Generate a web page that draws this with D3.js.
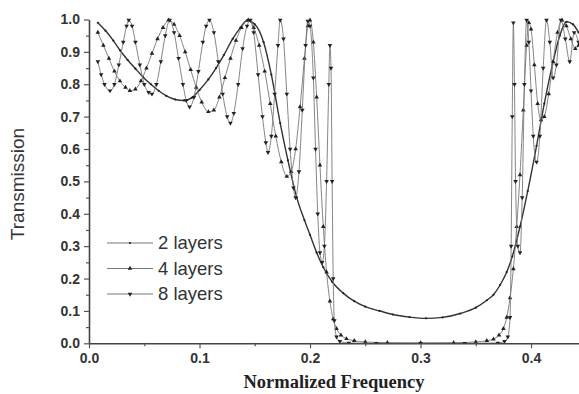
<!DOCTYPE html>
<html>
<head>
<meta charset="utf-8">
<script src="https://cdn.jsdelivr.net/npm/d3@7"></script>
<style>
  body { margin: 0; background: #fff; }
</style>
</head>
<body>
<svg id="chart" width="579" height="394"></svg>
<script>
// [normalized frequency, transmission]
const layers2 = [
  [0.008, 0.99], [0.015, 0.965], [0.022, 0.935], [0.028, 0.905], [0.035, 0.875],
  [0.042, 0.848], [0.049, 0.822], [0.056, 0.8], [0.063, 0.78], [0.07, 0.764],
  [0.078, 0.753], [0.086, 0.75], [0.093, 0.758], [0.1, 0.782], [0.108, 0.815],
  [0.115, 0.85], [0.122, 0.89], [0.13, 0.94], [0.137, 0.975], [0.143, 0.997],
  [0.15, 0.985], [0.158, 0.93], [0.165, 0.83], [0.173, 0.68], [0.18, 0.565],
  [0.188, 0.45], [0.195, 0.38], [0.2, 0.335], [0.206, 0.28], [0.212, 0.235],
  [0.22, 0.19], [0.23, 0.155], [0.24, 0.13], [0.25, 0.113], [0.263, 0.1],
  [0.275, 0.089], [0.29, 0.081], [0.305, 0.077], [0.32, 0.08], [0.336, 0.092],
  [0.35, 0.11], [0.36, 0.133], [0.366, 0.15], [0.372, 0.18], [0.378, 0.22],
  [0.383, 0.268], [0.39, 0.36], [0.397, 0.47], [0.405, 0.61], [0.412, 0.74],
  [0.42, 0.87], [0.426, 0.95], [0.432, 0.993], [0.438, 0.985], [0.443, 0.96]
];

const layers4 = [
  [0.008, 0.96], [0.013, 0.92], [0.018, 0.88], [0.023, 0.84], [0.028, 0.81],
  [0.033, 0.79], [0.037, 0.78], [0.042, 0.785], [0.047, 0.81], [0.052, 0.85],
  [0.057, 0.895], [0.062, 0.94], [0.067, 0.975], [0.072, 0.998], [0.077, 0.985],
  [0.082, 0.95], [0.087, 0.9], [0.092, 0.845], [0.097, 0.79], [0.102, 0.745],
  [0.108, 0.715], [0.113, 0.72], [0.118, 0.76], [0.123, 0.82], [0.128, 0.88],
  [0.133, 0.935], [0.138, 0.975], [0.144, 0.998], [0.149, 0.975], [0.154, 0.92],
  [0.159, 0.84], [0.164, 0.74], [0.169, 0.64], [0.174, 0.56], [0.179, 0.515],
  [0.183, 0.53], [0.187, 0.6], [0.191, 0.73], [0.195, 0.88], [0.198, 0.98],
  [0.2, 0.998], [0.203, 0.93], [0.206, 0.76], [0.209, 0.55], [0.212, 0.36],
  [0.215, 0.22], [0.218, 0.13], [0.221, 0.075], [0.224, 0.045], [0.228, 0.025],
  [0.233, 0.014], [0.24, 0.008], [0.25, 0.004], [0.27, 0.002], [0.3, 0.0015],
  [0.33, 0.002], [0.35, 0.004], [0.36, 0.008], [0.366, 0.013], [0.371, 0.025],
  [0.375, 0.045], [0.378, 0.08], [0.381, 0.14], [0.384, 0.23], [0.387, 0.36],
  [0.39, 0.52], [0.393, 0.72], [0.396, 0.92], [0.398, 0.99], [0.4, 0.97],
  [0.403, 0.86], [0.406, 0.74], [0.409, 0.69], [0.412, 0.7], [0.416, 0.77],
  [0.42, 0.87], [0.424, 0.96], [0.428, 0.998], [0.432, 0.98], [0.436, 0.94],
  [0.44, 0.91], [0.443, 0.92]
];

const layers8 = [
  [0.008, 0.87], [0.011, 0.83], [0.014, 0.8], [0.019, 0.78], [0.023, 0.8],
  [0.027, 0.86], [0.031, 0.93], [0.034, 0.98], [0.036, 0.998], [0.039, 0.98],
  [0.042, 0.93], [0.046, 0.86], [0.05, 0.8], [0.054, 0.775], [0.057, 0.77],
  [0.061, 0.8], [0.065, 0.87], [0.069, 0.95], [0.073, 0.998], [0.077, 0.96],
  [0.081, 0.88], [0.085, 0.8], [0.088, 0.75], [0.091, 0.73], [0.095, 0.76],
  [0.099, 0.84], [0.103, 0.93], [0.106, 0.98], [0.109, 0.998], [0.113, 0.96],
  [0.117, 0.87], [0.121, 0.77], [0.125, 0.7], [0.128, 0.68], [0.131, 0.71],
  [0.135, 0.8], [0.139, 0.91], [0.143, 0.98], [0.146, 0.998], [0.149, 0.96],
  [0.153, 0.83], [0.157, 0.7], [0.16, 0.62], [0.162, 0.59], [0.165, 0.64],
  [0.168, 0.77], [0.171, 0.92], [0.173, 0.998], [0.176, 0.94], [0.179, 0.77],
  [0.182, 0.6], [0.185, 0.48], [0.187, 0.45], [0.19, 0.53], [0.193, 0.72],
  [0.196, 0.92], [0.198, 0.995], [0.2, 0.98], [0.203, 0.82], [0.205, 0.6],
  [0.207, 0.4], [0.209, 0.28], [0.211, 0.25], [0.213, 0.3], [0.215, 0.5],
  [0.217, 0.8], [0.218, 0.92], [0.219, 0.85], [0.22, 0.5], [0.221, 0.2],
  [0.222, 0.07], [0.224, 0.02], [0.227, 0.006], [0.235, 0.001], [0.26, 0],
  [0.3, 0], [0.34, 0], [0.37, 0.001], [0.376, 0.006], [0.379, 0.02],
  [0.381, 0.08], [0.382, 0.3], [0.383, 0.7], [0.384, 0.99], [0.385, 0.8],
  [0.386, 0.5], [0.388, 0.3], [0.39, 0.28], [0.392, 0.45], [0.394, 0.8],
  [0.396, 0.998], [0.398, 0.93], [0.4, 0.78], [0.402, 0.64], [0.405, 0.56],
  [0.408, 0.64], [0.411, 0.85], [0.414, 0.998], [0.417, 0.93], [0.42, 0.82],
  [0.423, 0.86], [0.427, 0.998], [0.431, 0.94], [0.435, 0.87], [0.439, 0.96],
  [0.443, 0.93]
];

const seriesNames = ['2 layers', '4 layers', '8 layers'];
const xTicks = [0.0, 0.1, 0.2, 0.3, 0.4];
const xMinorTicks = [0.05, 0.15, 0.25, 0.35];
const yTicks = [0.0, 0.1, 0.2, 0.3, 0.4, 0.5, 0.6, 0.7, 0.8, 0.9, 1.0];
const yMinorTicks = [0.05, 0.15, 0.25, 0.35, 0.45, 0.55, 0.65, 0.75, 0.85, 0.95];

const svg = d3.select('#chart');
const plotLeft = 89, plotRight = 579, plotTop = 19.5, plotBottom = 343.3;

const x = d3.scaleLinear().domain([0, 0.4434]).range([plotLeft, plotRight]);
const y = d3.scaleLinear().domain([0, 1]).range([plotBottom, plotTop]);

// clip the curves to the plot area
svg.append('clipPath').attr('id', 'plot')
  .append('rect')
  .attr('x', plotLeft).attr('y', plotTop - 4)
  .attr('width', plotRight - plotLeft).attr('height', plotBottom - plotTop + 4);

// axes
const yAxis = svg.append('g')
  .attr('transform', 'translate(' + plotLeft + ',0)')
  .call(d3.axisLeft(y).tickValues(yTicks).tickFormat(d3.format('.1f')).tickSize(5).tickSizeOuter(0));
svg.append('g')
  .attr('transform', 'translate(' + plotLeft + ',0)')
  .call(d3.axisLeft(y).tickValues(yMinorTicks).tickFormat('').tickSize(3).tickSizeOuter(0))
  .select('.domain').remove();

const xAxis = svg.append('g')
  .attr('transform', 'translate(0,' + plotBottom + ')')
  .call(d3.axisBottom(x).tickValues(xTicks).tickFormat(d3.format('.1f')).tickSize(5).tickSizeOuter(0));
svg.append('g')
  .attr('transform', 'translate(0,' + plotBottom + ')')
  .call(d3.axisBottom(x).tickValues(xMinorTicks).tickFormat('').tickSize(3).tickSizeOuter(0))
  .select('.domain').remove();

svg.selectAll('.domain').attr('stroke', '#444').attr('stroke-width', 1.6);
svg.selectAll('.tick line').attr('stroke', '#555').attr('stroke-width', 1.2);
svg.selectAll('.tick text')
  .attr('fill', '#333')
  .style('font-family', 'Liberation Sans, Arial, sans-serif')
  .style('font-weight', 'bold')
  .style('font-size', '14px');
yAxis.selectAll('.tick text').attr('x', -9);
xAxis.selectAll('.tick text').attr('y', 10);

// axis titles
svg.append('text')
  .attr('transform', 'translate(24,184) rotate(-90)')
  .attr('text-anchor', 'middle')
  .attr('fill', '#333')
  .style('font-family', 'Liberation Sans, Arial, sans-serif')
  .style('font-size', '19px')
  .text('Transmission');

svg.append('text')
  .attr('x', 334).attr('y', 388)
  .attr('text-anchor', 'middle')
  .attr('fill', '#222')
  .style('font-family', 'Liberation Serif, Times New Roman, serif')
  .style('font-weight', 'bold')
  .style('font-size', '18.5px')
  .text('Normalized Frequency');

// curves
const line = d3.line()
  .x(d => x(d[0]))
  .y(d => y(d[1]))
  .curve(d3.curveMonotoneX);

const tri = d3.symbol().type(d3.symbolTriangle).size(9);
const markers = [
  g => g.append('circle').attr('r', 1.1),
  g => g.append('path').attr('d', tri),
  g => g.append('path').attr('d', tri).attr('transform', 'rotate(180)')
];

const plot = svg.append('g').attr('clip-path', 'url(#plot)');
[layers2, layers4, layers8].forEach((data, i) => {
  plot.append('path')
    .datum(data)
    .attr('fill', 'none')
    .attr('stroke', i === 0 ? '#333' : '#777')
    .attr('stroke-width', i === 0 ? 1.4 : 0.9)
    .attr('d', line);

  plot.selectAll('.m' + i)
    .data(data)
    .enter()
    .append('g')
    .attr('class', 'm' + i)
    .attr('transform', d => 'translate(' + x(d[0]) + ',' + y(d[1]) + ')')
    .attr('fill', '#222')
    .each(function () { markers[i](d3.select(this)); });
});

// legend
const legend = svg.append('g');
seriesNames.forEach((name, i) => {
  const ly = 243 + i * 25.5;
  legend.append('line')
    .attr('x1', 107).attr('x2', 153)
    .attr('y1', ly).attr('y2', ly)
    .attr('stroke', '#777').attr('stroke-width', 1);
  const m = legend.append('g')
    .attr('transform', 'translate(130,' + ly + ')')
    .attr('fill', '#222');
  markers[i](m);
  legend.append('text')
    .attr('x', 158).attr('y', ly + 6)
    .attr('fill', '#333')
    .style('font-family', 'Liberation Sans, Arial, sans-serif')
    .style('font-size', '18.5px')
    .text(name);
});
</script>
</body>
</html>
